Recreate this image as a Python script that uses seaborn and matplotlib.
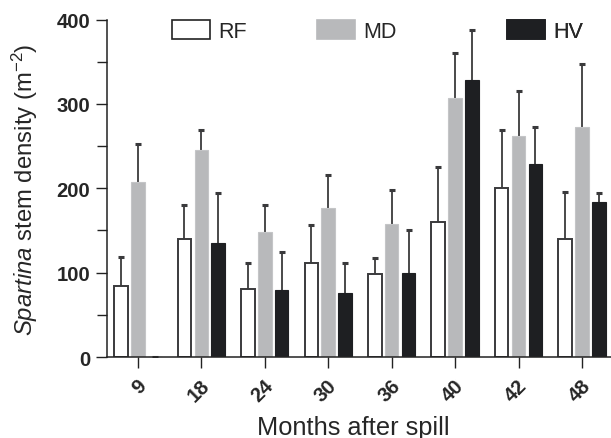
import numpy as np
import pandas as pd
import matplotlib
matplotlib.use("Agg")
import matplotlib.pyplot as plt
import matplotlib.patches as mpatches
import matplotlib.transforms as mtransforms
from matplotlib.ticker import MultipleLocator
import seaborn as sns

# Data (mean and upper end of error bar)
months = ["9", "18", "24", "30", "36", "40", "42", "48"]
rf_mean = [84, 140, 81, 112, 98, 160, 200, 140]
rf_top = [119, 180, 112, 156, 117, 225, 269, 196]
md_mean = [208, 246, 148, 177, 158, 307, 262, 273]
md_top = [253, 269, 180, 216, 198, 360, 315, 347]
hv_mean = [0, 135, 79, 76, 100, 329, 229, 184]
hv_top = [0, 195, 125, 112, 150, 388, 273, 195]
groups = ["RF", "MD", "HV"]

sns.set_theme(style="ticks")
plt.rcParams["font.family"] = ["Liberation Sans", "DejaVu Sans"]
plt.rcParams["mathtext.fontset"] = "custom"
plt.rcParams["mathtext.rm"] = "Liberation Sans"
plt.rcParams["mathtext.it"] = "Liberation Sans:italic"

face = {"RF": "white", "MD": "#b8b9bb", "HV": "#1e1f22"}
edge = {"RF": "#3a3a3c", "MD": "#c4c5c7", "HV": "#1e1f22"}

df = pd.DataFrame({
    "month": months * 3,
    "group": np.repeat(groups, len(months)),
    "mean": rf_mean + md_mean + hv_mean,
    "top": rf_top + md_top + hv_top,
})

fig = plt.figure(figsize=(6.11, 4.39), dpi=100)
ax = fig.add_axes([0.175, 0.1845, 0.825, 0.7685])

sns.barplot(data=df, x="month", y="mean", hue="group", hue_order=groups,
            order=months, palette=face, width=0.8, gap=0.2, errorbar=None,
            legend=False, ax=ax)

for cont, g in zip(ax.containers, groups):
    sub = df[df["group"] == g]
    xs = [b.get_x() + b.get_width() / 2 for b in cont]
    for b in cont:
        b.set_edgecolor(edge[g])
        b.set_linewidth(1.4 if g == "RF" else 0.8)
        b.set_zorder(2)
    err = np.array(sub["top"]) - np.array(sub["mean"])
    eb = ax.errorbar(xs, sub["mean"], yerr=[np.zeros(len(err)), err],
                     fmt="none", ecolor="#3a3a3c", elinewidth=1.3,
                     capsize=2.5, capthick=2.2, zorder=1)
    # only the upper cap is drawn in the original
    eb[1][0].set_visible(False)

ax.set_xlim(-0.488, 7.457)
ax.set_ylim(0, 400)
ax.yaxis.set_major_locator(MultipleLocator(100))
ax.yaxis.set_minor_locator(MultipleLocator(50))
ax.tick_params(axis="y", which="major", length=8, width=1, pad=4,
               labelsize=14.6, color="#222222")
ax.tick_params(axis="y", which="minor", length=7, width=1, color="#222222")
ax.tick_params(axis="x", length=8, width=1, pad=10, labelsize=14.6,
               color="#222222")
for lab in ax.get_yticklabels():
    lab.set_fontweight("bold")
shift = mtransforms.ScaledTranslation(0.055, 0, fig.dpi_scale_trans)
for lab in ax.get_xticklabels():
    lab.set_fontweight("bold")
    lab.set_rotation(45)
    lab.set_rotation_mode("anchor")
    lab.set_ha("right")
    lab.set_va("center")
    lab.set_transform(lab.get_transform() + shift)

sns.despine(ax=ax)
for s in ["left", "bottom"]:
    ax.spines[s].set_linewidth(1.1)
    ax.spines[s].set_color("#222222")

ax.set_xlabel("Months after spill", fontsize=18.3)
ax.set_ylabel(r"$\it{Spartina}$ stem density (m$^{-2}$)", fontsize=17.2)
ax.xaxis.set_label_coords(0.488, -0.172)
ax.yaxis.set_label_coords(-0.133, 0.5)

# three separate legend entries, spaced as in the original
leg_x = [(172 - 107) / 504, (317 - 107) / 504, (507 - 107) / 504]
for g, lx in zip(groups, leg_x):
    h = mpatches.Patch(facecolor=face[g], edgecolor="#222222" if g == "RF" else face[g],
                       linewidth=1.2)
    leg = ax.legend(handles=[h], labels=[g], loc="center left",
                    bbox_to_anchor=(lx, 0.966), frameon=False, fontsize=15.5,
                    handlelength=1.75, handleheight=1.0, handletextpad=0.4,
                    borderpad=0, borderaxespad=0)
    ax.add_artist(leg)

fig.savefig("out.png", dpi=100)
